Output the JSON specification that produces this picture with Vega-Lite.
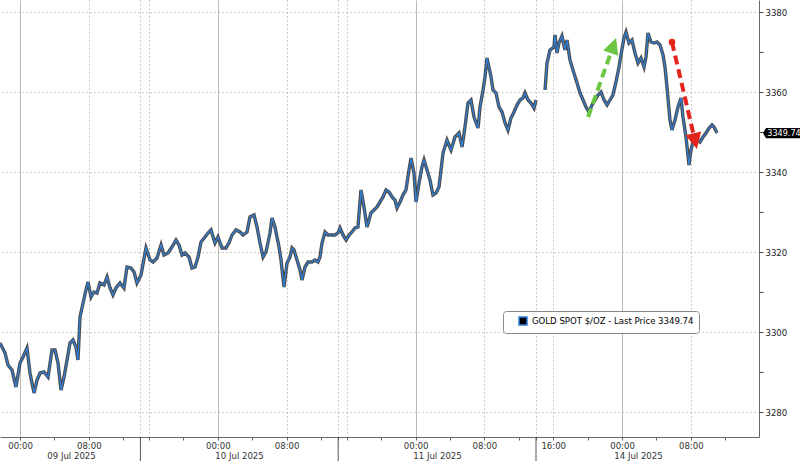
{
  "$schema": "https://vega.github.io/schema/vega-lite/v6.json",
  "width": 759,
  "height": 437,
  "autosize": "none",
  "padding": {"left": 0, "top": 0, "right": 41, "bottom": 24},
  "background": "white",
  "config": {"view": {"stroke": null}, "font": "DejaVu Sans Condensed, DejaVu Sans"},
  "datasets": {
    "price": [
      {"t":-2.33,"p":3297.25,"seg":1},{"t":-1.74,"p":3294.75,"seg":1},{"t":-1.40,"p":3291.75,"seg":1},{"t":-0.93,"p":3290.5,"seg":1},{"t":-0.47,"p":3286.25,"seg":1},
      {"t":0.00,"p":3292.25,"seg":1},{"t":0.35,"p":3293.75,"seg":1},{"t":0.81,"p":3296,"seg":1},{"t":1.16,"p":3289.75,"seg":1},{"t":1.63,"p":3284.75,"seg":1},
      {"t":1.98,"p":3288,"seg":1},{"t":2.33,"p":3289.75,"seg":1},{"t":2.79,"p":3290,"seg":1},{"t":3.26,"p":3288.75,"seg":1},{"t":3.72,"p":3295.5,"seg":1},
      {"t":4.07,"p":3295.5,"seg":1},{"t":4.42,"p":3292.25,"seg":1},{"t":4.77,"p":3285.5,"seg":1},{"t":5.12,"p":3288.75,"seg":1},{"t":5.47,"p":3293,"seg":1},
      {"t":5.81,"p":3297.25,"seg":1},{"t":6.16,"p":3298,"seg":1},{"t":6.51,"p":3296.25,"seg":1},{"t":6.74,"p":3293,"seg":1},{"t":6.98,"p":3303.75,"seg":1},
      {"t":7.33,"p":3307.25,"seg":1},{"t":7.67,"p":3310.5,"seg":1},{"t":7.91,"p":3312.5,"seg":1},{"t":8.26,"p":3308.75,"seg":1},{"t":8.60,"p":3310,"seg":1},
      {"t":8.95,"p":3309.75,"seg":1},{"t":9.30,"p":3312.25,"seg":1},{"t":9.77,"p":3311.75,"seg":1},{"t":10.12,"p":3313.75,"seg":1},{"t":10.47,"p":3311,"seg":1},
      {"t":10.81,"p":3309.25,"seg":1},{"t":11.16,"p":3311,"seg":1},{"t":11.63,"p":3312.25,"seg":1},{"t":12.09,"p":3311,"seg":1},{"t":12.44,"p":3316.25,"seg":1},
      {"t":12.91,"p":3316,"seg":1},{"t":13.26,"p":3315,"seg":1},{"t":13.60,"p":3312.25,"seg":1},{"t":14.07,"p":3314.25,"seg":1},{"t":14.65,"p":3321,"seg":1},
      {"t":15.12,"p":3318,"seg":1},{"t":15.47,"p":3317.5,"seg":1},{"t":15.93,"p":3318.5,"seg":1},{"t":16.40,"p":3321.75,"seg":1},{"t":16.74,"p":3319.25,"seg":1},
      {"t":17.21,"p":3319.75,"seg":1},{"t":17.67,"p":3321.25,"seg":1},{"t":18.14,"p":3323,"seg":1},{"t":18.49,"p":3321.75,"seg":1},{"t":18.84,"p":3319.25,"seg":1},
      {"t":19.19,"p":3319.75,"seg":1},{"t":19.65,"p":3318.75,"seg":1},{"t":20.00,"p":3316,"seg":1},{"t":20.35,"p":3316.25,"seg":1},{"t":20.70,"p":3318.75,"seg":1},
      {"t":21.05,"p":3322.5,"seg":1},{"t":21.51,"p":3323.75,"seg":1},{"t":21.86,"p":3324.75,"seg":1},{"t":22.21,"p":3325.5,"seg":1},{"t":22.67,"p":3322.25,"seg":1},
      {"t":23.02,"p":3323.75,"seg":1},{"t":23.49,"p":3321,"seg":1},{"t":23.95,"p":3321,"seg":1},{"t":24.30,"p":3322.25,"seg":1},{"t":24.65,"p":3324.25,"seg":1},
      {"t":25.12,"p":3325.5,"seg":1},{"t":25.58,"p":3325,"seg":1},{"t":25.93,"p":3324.25,"seg":1},{"t":26.40,"p":3325,"seg":1},{"t":26.74,"p":3328.75,"seg":1},
      {"t":27.21,"p":3329.25,"seg":1},{"t":27.56,"p":3326.25,"seg":1},{"t":27.91,"p":3322.25,"seg":1},{"t":28.26,"p":3318.75,"seg":1},{"t":28.60,"p":3320,"seg":1},
      {"t":29.07,"p":3324.75,"seg":1},{"t":29.30,"p":3328.5,"seg":1},{"t":29.65,"p":3326.25,"seg":1},{"t":29.88,"p":3323.75,"seg":1},{"t":30.12,"p":3321.25,"seg":1},
      {"t":30.35,"p":3318,"seg":1},{"t":30.70,"p":3311.25,"seg":1},{"t":31.05,"p":3317.25,"seg":1},{"t":31.40,"p":3318.75,"seg":1},{"t":31.63,"p":3321,"seg":1},
      {"t":31.86,"p":3320.5,"seg":1},{"t":32.21,"p":3318,"seg":1},{"t":32.56,"p":3315.5,"seg":1},{"t":32.79,"p":3313,"seg":1},{"t":33.14,"p":3316.25,"seg":1},
      {"t":33.49,"p":3317.5,"seg":1},{"t":33.95,"p":3317.5,"seg":1},{"t":34.30,"p":3318,"seg":1},{"t":34.65,"p":3317.5,"seg":1},{"t":34.88,"p":3318.75,"seg":1},
      {"t":35.12,"p":3322.25,"seg":1},{"t":35.47,"p":3325,"seg":1},{"t":35.81,"p":3324.25,"seg":1},{"t":36.28,"p":3324.25,"seg":1},{"t":36.63,"p":3324.25,"seg":1},
      {"t":36.98,"p":3324.75,"seg":1},{"t":37.21,"p":3326,"seg":1},{"t":37.56,"p":3324.25,"seg":1},{"t":37.91,"p":3323,"seg":1},{"t":38.26,"p":3324.25,"seg":1},
      {"t":38.60,"p":3325,"seg":1},{"t":38.95,"p":3326,"seg":1},{"t":39.30,"p":3326.25,"seg":1},{"t":39.65,"p":3335.5,"seg":1},{"t":40.00,"p":3331.25,"seg":1},
      {"t":40.35,"p":3326.25,"seg":1},{"t":40.58,"p":3328,"seg":1},{"t":40.81,"p":3329.75,"seg":1},{"t":41.16,"p":3330.5,"seg":1},{"t":41.51,"p":3331.25,"seg":1},
      {"t":41.86,"p":3332.5,"seg":1},{"t":42.21,"p":3333.75,"seg":1},{"t":42.56,"p":3335.5,"seg":1},{"t":42.91,"p":3335,"seg":1},{"t":43.26,"p":3333.75,"seg":1},
      {"t":43.60,"p":3333,"seg":1},{"t":43.84,"p":3331,"seg":1},{"t":44.19,"p":3332.5,"seg":1},{"t":44.53,"p":3334.25,"seg":1},{"t":44.88,"p":3335.5,"seg":1},
      {"t":45.23,"p":3340.5,"seg":1},{"t":45.47,"p":3343.5,"seg":1},{"t":45.81,"p":3339.75,"seg":1},{"t":46.05,"p":3332.5,"seg":1},{"t":46.40,"p":3337.25,"seg":1},
      {"t":46.74,"p":3341.25,"seg":1},{"t":46.98,"p":3343,"seg":1},{"t":47.33,"p":3340.5,"seg":1},{"t":47.67,"p":3338,"seg":1},{"t":48.02,"p":3334.25,"seg":1},
      {"t":48.37,"p":3334.75,"seg":1},{"t":48.72,"p":3336.25,"seg":1},{"t":49.19,"p":3344.75,"seg":1},{"t":49.65,"p":3348,"seg":1},{"t":50.12,"p":3345.5,"seg":1},
      {"t":50.58,"p":3348.75,"seg":1},{"t":51.05,"p":3349.75,"seg":1},{"t":51.40,"p":3346.25,"seg":1},{"t":51.74,"p":3351.25,"seg":1},{"t":52.09,"p":3357.25,"seg":1},
      {"t":52.44,"p":3358,"seg":1},{"t":52.79,"p":3353.75,"seg":1},{"t":53.26,"p":3351,"seg":1},{"t":53.49,"p":3356.25,"seg":1},{"t":53.84,"p":3360.5,"seg":1},
      {"t":54.07,"p":3363.75,"seg":1},{"t":54.30,"p":3368.5,"seg":1},{"t":54.53,"p":3366.25,"seg":1},{"t":54.77,"p":3363.75,"seg":1},{"t":55.00,"p":3360.5,"seg":1},
      {"t":55.35,"p":3359.75,"seg":1},{"t":55.70,"p":3356.25,"seg":1},{"t":56.05,"p":3355,"seg":1},{"t":56.40,"p":3352.25,"seg":1},{"t":56.74,"p":3350.5,"seg":1},
      {"t":57.09,"p":3353.5,"seg":1},{"t":57.44,"p":3355,"seg":1},{"t":57.79,"p":3356.75,"seg":1},{"t":58.14,"p":3358,"seg":1},{"t":58.49,"p":3358.5,"seg":1},
      {"t":58.72,"p":3359.75,"seg":1},{"t":59.07,"p":3358,"seg":1},{"t":59.42,"p":3357.25,"seg":1},{"t":59.77,"p":3356,"seg":1},{"t":60.00,"p":3358,"seg":1},
      {"t":61.05,"p":3360.5,"seg":2},{"t":61.28,"p":3367.25,"seg":2},{"t":61.63,"p":3370.5,"seg":2},{"t":62.09,"p":3371.25,"seg":2},{"t":62.21,"p":3374.25,"seg":2},
      {"t":62.44,"p":3369.75,"seg":2},{"t":62.67,"p":3372.25,"seg":2},{"t":63.02,"p":3374,"seg":2},{"t":63.37,"p":3370.5,"seg":2},{"t":63.60,"p":3373,"seg":2},
      {"t":63.95,"p":3368,"seg":2},{"t":64.30,"p":3365.5,"seg":2},{"t":64.77,"p":3362.25,"seg":2},{"t":65.12,"p":3359.75,"seg":2},{"t":65.47,"p":3358,"seg":2},
      {"t":65.81,"p":3356.25,"seg":2},{"t":66.16,"p":3355,"seg":2},{"t":66.51,"p":3356.75,"seg":2},{"t":66.86,"p":3358,"seg":2},{"t":67.21,"p":3359.25,"seg":2},
      {"t":67.56,"p":3360,"seg":2},{"t":67.91,"p":3358,"seg":2},{"t":68.26,"p":3356.75,"seg":2},{"t":68.60,"p":3358,"seg":2},{"t":68.95,"p":3359.25,"seg":2},
      {"t":69.30,"p":3362.5,"seg":2},{"t":69.65,"p":3366.25,"seg":2},{"t":69.88,"p":3369.25,"seg":2},{"t":70.23,"p":3373.5,"seg":2},{"t":70.47,"p":3375,"seg":2},
      {"t":70.81,"p":3372.25,"seg":2},{"t":71.16,"p":3373,"seg":2},{"t":71.51,"p":3369.75,"seg":2},{"t":71.86,"p":3367.25,"seg":2},{"t":72.21,"p":3368.5,"seg":2},
      {"t":72.56,"p":3366.25,"seg":2},{"t":72.79,"p":3368.75,"seg":2},{"t":73.02,"p":3374.75,"seg":2},{"t":73.37,"p":3372.5,"seg":2},{"t":73.72,"p":3372.25,"seg":2},
      {"t":74.07,"p":3372.5,"seg":2},{"t":74.42,"p":3371.75,"seg":2},{"t":74.77,"p":3369.25,"seg":2},{"t":75.00,"p":3366.25,"seg":2},{"t":75.23,"p":3361.25,"seg":2},
      {"t":75.58,"p":3353,"seg":2},{"t":75.81,"p":3350.5,"seg":2},{"t":76.16,"p":3353,"seg":2},{"t":76.51,"p":3356.25,"seg":2},{"t":76.86,"p":3358.5,"seg":2},
      {"t":77.09,"p":3353.75,"seg":2},{"t":77.44,"p":3348.75,"seg":2},{"t":77.79,"p":3341.75,"seg":2},{"t":78.02,"p":3345.5,"seg":2},{"t":78.37,"p":3348.75,"seg":2},
      {"t":78.72,"p":3348,"seg":2},{"t":79.07,"p":3347.5,"seg":2},{"t":79.42,"p":3348.75,"seg":2},{"t":79.77,"p":3349.75,"seg":2},{"t":80.12,"p":3351,"seg":2},
      {"t":80.47,"p":3351.75,"seg":2},{"t":80.70,"p":3351.25,"seg":2},{"t":81.05,"p":3349.74,"seg":2}
    ],
    "seps": [{"t": 14}, {"t": 37}, {"t": 60}],
    "arrows": [
      {"arrow": "green", "part": "start", "t": 66.05, "p": 3353.75},
      {"arrow": "green", "part": "end", "t": 68.8, "p": 3370.4},
      {"arrow": "green", "part": "head", "t": 68.92, "p": 3371.15},
      {"arrow": "red", "part": "start", "t": 75.81, "p": 3372.5},
      {"arrow": "red", "part": "end", "t": 78.37, "p": 3348.9},
      {"arrow": "red", "part": "head", "t": 78.45, "p": 3348.2}
    ]
  },
  "resolve": {"axis": {"x": "independent", "y": "independent"}},
  "layer": [
    {
      "data": {"name": "price"},
      "mark": {"type": "line", "color": "#383838", "strokeWidth": 3.4, "opacity": 0.9},
      "encoding": {
        "x": {
          "field": "t", "type": "quantitative",
          "scale": {"domain": [-2.326, 85.93], "nice": false, "zero": false},
          "axis": {
            "orient": "bottom", "title": null,
            "values": [0,4,8,12,14,15,19,23,27,31,35,37,38,42,46,50,54,58,60,62,66,70,74,78,82],
            "labelExpr": "indexof([0,23,46,70], datum.value) >= 0 ? '00:00' : (indexof([8,31,54,78], datum.value) >= 0 ? '08:00' : (datum.value == 62 ? '16:00' : ''))",
            "labelFontSize": 9.5, "labelColor": "#333", "labelBaseline": "top", "labelPadding": 0,
            "labelFlush": false, "labelOverlap": false,
            "domainColor": "#666", "tickColor": "#666", "tickSize": 3,
            "grid": true,
            "gridColor": {"condition": {"test": "indexof([0,23,46,70], datum.value) >= 0", "value": "#b8b8b8"}, "value": "#9a9a9a"},
            "gridDash": {"condition": {"test": "indexof([0,23,46,70], datum.value) >= 0", "value": []}, "value": [1, 3]},
            "gridOpacity": {"condition": {"test": "indexof([4,12,19,27,35,42,50,58,66,74,82], datum.value) >= 0", "value": 0}, "value": 1}
          }
        },
        "y": {
          "field": "p", "type": "quantitative",
          "scale": {"domain": [3273.75, 3383], "nice": false, "zero": false},
          "axis": {
            "orient": "right", "title": null,
            "values": [3280,3290,3300,3310,3320,3330,3340,3350,3360,3370,3380],
            "labelExpr": "datum.value % 20 == 0 ? datum.label : ''",
            "format": "d",
            "labelFontSize": 9.5, "labelColor": "#222", "labelPadding": 2,
            "domain": true, "domainColor": "#666", "ticks": true, "tickColor": "#444", "tickSize": 4,
            "grid": true, "gridColor": "#9a9a9a", "gridDash": [1, 3],
            "gridOpacity": {"condition": {"test": "datum.value % 20 == 0", "value": 1}, "value": 0}
          }
        },
        "detail": {"field": "seg"}
      }
    },
    {
      "data": {"name": "price"},
      "mark": {"type": "line", "strokeWidth": 1.2},
      "encoding": {
        "x": {"field": "t", "type": "quantitative", "scale": {"domain": [-2.326, 85.93], "nice": false, "zero": false}, "axis": null},
        "y": {"field": "p", "type": "quantitative", "scale": {"domain": [3273.75, 3383], "nice": false, "zero": false}, "axis": null},
        "detail": {"field": "seg"},
        "color": {
          "datum": "GOLD SPOT $/OZ - Last Price 3349.74",
          "scale": {"range": ["#2f80da"]},
          "legend": {
            "orient": "none", "legendX": 503, "legendY": 311, "title": null,
            "padding": 5, "strokeColor": "#8a8a8a", "fillColor": "white", "cornerRadius": 3,
            "labelFontSize": 9.5, "labelColor": "#000", "labelOffset": 4, "labelLimit": 400,
            "symbolType": "square", "symbolSize": 64, "symbolOffset": 10,
            "symbolFillColor": "#000", "symbolStrokeColor": "#000",
            "encode": {"symbols": {"update": {"fill": {"value": "#000"}, "stroke": {"value": "#000"}, "shape": {"value": "square"}}}}
          }
        }
      }
    },
    {
      "data": {"name": "seps"},
      "mark": {"type": "rule", "color": "#555", "strokeWidth": 1},
      "encoding": {
        "x": {
          "field": "t", "type": "quantitative",
          "scale": {"domain": [-2.326, 85.93], "nice": false, "zero": false},
          "axis": {
            "orient": "bottom", "title": null, "domain": false, "ticks": false, "grid": false,
            "values": [5.93, 25.47, 48.49, 71.86],
            "labelExpr": "datum.value < 15 ? '09 Jul 2025' : (datum.value < 40 ? '10 Jul 2025' : (datum.value < 60 ? '11 Jul 2025' : '14 Jul 2025'))",
            "labelFontSize": 9.5, "labelColor": "#333", "labelBaseline": "top", "labelPadding": 13,
            "labelFlush": false, "labelOverlap": false
          }
        },
        "y": {"datum": 3273.75, "scale": {"domain": [3273.75, 3383], "nice": false, "zero": false}, "axis": null},
        "y2": {"datum": 3267.75}
      }
    },
    {
      "data": {"name": "arrows"},
      "transform": [{"filter": "datum.arrow == 'green' && datum.part != 'head'"}],
      "mark": {"type": "line", "color": "#6cc644", "strokeWidth": 4, "strokeDash": [9, 5]},
      "encoding": {
        "x": {"field": "t", "type": "quantitative", "axis": null},
        "y": {"field": "p", "type": "quantitative", "axis": null}
      }
    },
    {
      "data": {"name": "arrows"},
      "transform": [{"filter": "datum.arrow == 'green' && datum.part == 'head'"}],
      "mark": {"type": "point", "shape": "M0,-1L0.8,0.6L-0.8,0.6Z", "size": 400, "filled": true, "color": "#6cc644", "opacity": 1, "angle": 19.5},
      "encoding": {
        "x": {"field": "t", "type": "quantitative", "axis": null},
        "y": {"field": "p", "type": "quantitative", "axis": null}
      }
    },
    {
      "data": {"name": "arrows"},
      "transform": [{"filter": "datum.arrow == 'red' && datum.part != 'head'"}],
      "mark": {"type": "line", "color": "#e3241c", "strokeWidth": 4, "strokeDash": [9, 5]},
      "encoding": {
        "x": {"field": "t", "type": "quantitative", "axis": null},
        "y": {"field": "p", "type": "quantitative", "axis": null}
      }
    },
    {
      "data": {"name": "arrows"},
      "transform": [{"filter": "datum.arrow == 'red' && datum.part == 'head'"}],
      "mark": {"type": "point", "shape": "M0,-1L0.8,0.6L-0.8,0.6Z", "size": 400, "filled": true, "color": "#e3241c", "opacity": 1, "angle": 166.9},
      "encoding": {
        "x": {"field": "t", "type": "quantitative", "axis": null},
        "y": {"field": "p", "type": "quantitative", "axis": null}
      }
    },
    {
      "data": {"name": "arrows"},
      "transform": [{"filter": "datum.arrow == 'red' && datum.part == 'start'"}],
      "mark": {"type": "circle", "size": 45, "color": "#e3241c", "opacity": 1},
      "encoding": {
        "x": {"field": "t", "type": "quantitative", "axis": null},
        "y": {"field": "p", "type": "quantitative", "axis": null}
      }
    },
    {
      "data": {"values": [{}]},
      "mark": {"type": "point", "shape": "M-1,0L-0.84,-0.27L1,-0.27L1,0.27L-0.84,0.27Z", "size": 1444, "filled": true, "color": "#000", "opacity": 1},
      "encoding": {
        "x": {"datum": 88.6, "type": "quantitative", "axis": null},
        "y": {"datum": 3349.74, "type": "quantitative", "axis": null}
      }
    },
    {
      "data": {"values": [{}]},
      "mark": {"type": "text", "color": "#fff", "fontSize": 9, "align": "center", "baseline": "middle", "dx": 2},
      "encoding": {
        "x": {"datum": 88.6, "type": "quantitative", "axis": null},
        "y": {"datum": 3349.74, "type": "quantitative", "axis": null},
        "text": {"value": "3349.74"}
      }
    }
  ]
}
